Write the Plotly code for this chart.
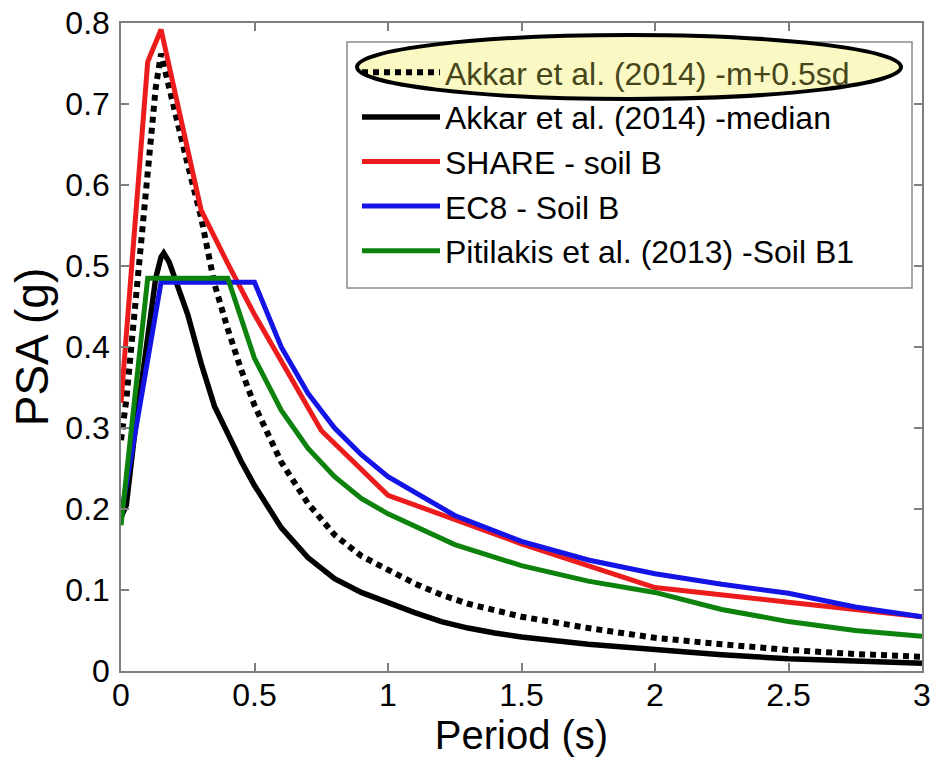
import plotly.graph_objects as go

# Periods (s) shared by the two Akkar et al. (2014) curves
akkar_T = [0, 0.02, 0.05, 0.1, 0.13, 0.15, 0.16, 0.18, 0.2, 0.25, 0.3, 0.35, 0.4,
           0.45, 0.5, 0.6, 0.7, 0.8, 0.9, 1.0, 1.1, 1.2, 1.3, 1.4, 1.5, 1.75,
           2.0, 2.25, 2.5, 2.75, 3.0]
akkar_m05sd = [0.285, 0.335, 0.44, 0.625, 0.72, 0.762, 0.748, 0.72, 0.69, 0.625,
               0.56, 0.478, 0.422, 0.372, 0.328, 0.258, 0.207, 0.168, 0.142,
               0.125, 0.108, 0.094, 0.083, 0.075, 0.067, 0.053, 0.041, 0.033,
               0.026, 0.021, 0.0175]
akkar_median = [0.19, 0.205, 0.29, 0.42, 0.485, 0.511, 0.516, 0.505, 0.487, 0.44,
                0.38, 0.327, 0.293, 0.259, 0.229, 0.177, 0.14, 0.114, 0.097,
                0.084, 0.072, 0.061, 0.053, 0.047, 0.042, 0.033, 0.026, 0.02,
                0.015, 0.012, 0.0095]

# SHARE, soil B
share_T = [0, 0.1, 0.15, 0.2, 0.3, 0.4, 0.5, 0.75, 1.0, 1.5, 2.0, 2.5, 3.0]
share_psa = [0.331, 0.752, 0.792, 0.718, 0.569, 0.503, 0.44, 0.297, 0.217,
             0.157, 0.103, 0.085, 0.067]

# EC8, soil B
ec8_T = [0, 0.15, 0.5, 0.6, 0.7, 0.8, 0.9, 1.0, 1.25, 1.5, 1.75, 2.0, 2.25,
         2.5, 2.75, 3.0]
ec8_psa = [0.192, 0.48, 0.48, 0.40, 0.343, 0.30, 0.267, 0.24, 0.192, 0.16,
           0.137, 0.12, 0.107, 0.096, 0.079, 0.067]

# Pitilakis et al. (2013), soil B1
pit_T = [0, 0.1, 0.4, 0.5, 0.6, 0.7, 0.8, 0.9, 1.0, 1.25, 1.5, 1.75, 2.0,
         2.25, 2.5, 2.75, 3.0]
pit_psa = [0.18, 0.485, 0.485, 0.386, 0.322, 0.275, 0.24, 0.213, 0.194, 0.156,
           0.13, 0.111, 0.097, 0.076, 0.061, 0.05, 0.043]

names = [
    "<span style='color:#46461a'>Akkar et al. (2014) -m+0.5sd</span>",
    "Akkar et al. (2014) -median",
    "SHARE - soil B",
    "EC8 - Soil B",
    "Pitilakis et al. (2013) -Soil B1",
]

W, H = 936, 764
L, R, T, B = 121, 14, 23, 93
PW, PH = W - L - R, H - T - B


def px(x):
    return (x - L) / PW


def py(y):
    return (H - B - y) / PH


FONT = "Liberation Sans, Arial, Helvetica, sans-serif"

fig = go.Figure()
series = [
    (akkar_T, akkar_m05sd, "black", 6, "6px,5px"),
    (akkar_T, akkar_median, "black", 5.5, "solid"),
    (share_T, share_psa, "#ec1c1c", 5, "solid"),
    (ec8_T, ec8_psa, "#1414e6", 5, "solid"),
    (pit_T, pit_psa, "#0d820d", 5, "solid"),
]
for i, (xs, ys, col, lw, dash) in enumerate(series):
    fig.add_trace(go.Scatter(
        x=xs, y=ys, mode="lines", name=names[i], legendgroup=f"g{i}",
        line=dict(color=col, width=lw, dash=dash),
    ))

axis_common = dict(
    showgrid=False, zeroline=False, showline=True, mirror="ticks",
    linecolor="#7f7f7f", linewidth=1.5, ticks="inside", ticklen=8,
    tickwidth=1.5, tickcolor="#7f7f7f", automargin=False,
    tickfont=dict(family=FONT, size=32, color="black"),
)

fig.update_layout(
    width=W, height=H,
    margin=dict(l=L, r=R, t=T, b=B, pad=0, autoexpand=False),
    paper_bgcolor="white", plot_bgcolor="white",
    font=dict(family=FONT, color="black"),
    xaxis=dict(range=[0, 3], tick0=0, dtick=0.5, ticklabelstandoff=-5,
               title=dict(text="Period (s)", font=dict(family=FONT, size=40),
                          standoff=0),
               **axis_common),
    yaxis=dict(range=[0, 0.8], tick0=0, dtick=0.1, ticklabelstandoff=3,
               title=dict(text="PSA (g)", font=dict(family=FONT, size=46),
                          standoff=2),
               **axis_common),
    showlegend=True,
    legend=dict(
        x=px(357), y=py(45), xanchor="left", yanchor="top",
        bgcolor="rgba(0,0,0,0)", borderwidth=0,
        font=dict(family=FONT, size=32, color="black"),
        itemwidth=78, tracegroupgap=5, traceorder="normal",
    ),
    shapes=[
        dict(type="rect", xref="paper", yref="paper",
             x0=px(347), x1=px(912), y0=py(288), y1=py(42),
             line=dict(color="#8a8a8a", width=1.5), fillcolor="white",
             layer="below"),
        dict(type="circle", xref="paper", yref="paper",
             x0=px(357), x1=px(901), y0=py(99), y1=py(35),
             line=dict(color="black", width=4), fillcolor="#fbf9c3",
             layer="above"),
    ],
)

fig.write_html("out.html")
